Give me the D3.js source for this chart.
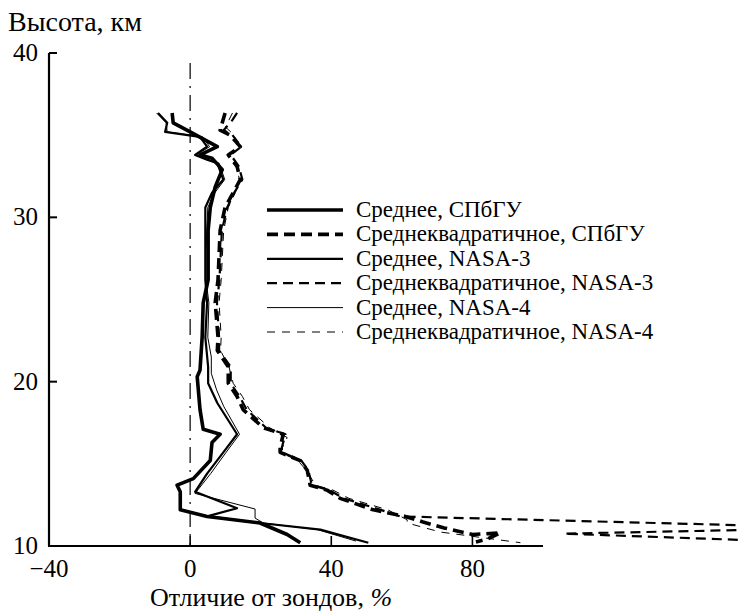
<!DOCTYPE html>
<html>
<head>
<meta charset="utf-8">
<script src="https://cdn.jsdelivr.net/npm/d3@7"></script>
<style>
  body { margin: 0; background: #fff; }
  text { font-family: "Liberation Serif", "DejaVu Serif", "Times New Roman", serif; fill: #000; }
</style>
</head>
<body>
<div id="chart"></div>
<script>
// [altitude km, difference %]
var meanSpbgu = [[36.35, -5.1], [35.75, -4.8], [35.2, 0], [34.3, 7.7], [33.8, 2.8], [33.6, 6.2],
  [32.9, 9.1], [31.85, 7.1], [30.6, 5.7], [29.2, 5.1], [26.2, 5.1], [24.8, 3.7], [22.7, 3.4],
  [20.7, 2.8], [20.3, 2.0], [18.3, 2.8], [17.1, 3.7], [16.8, 8.5], [16.3, 6.2], [15.2, 5.7],
  [14.1, 0.9], [13.7, -3.7], [13.3, -2.8], [12.2, -2.8], [11.8, 4.8], [11.4, 19.8],
  [10.7, 27.5], [10.2, 31.2]];
var rmsSpbgu = [[36.35, 9.9], [35.3, 8.5], [35.0, 11.3], [34.3, 14.2], [33.8, 10.8], [33.1, 13.3],
  [32.3, 14.2], [31.5, 12.2], [30.6, 9.9], [29.2, 8.5], [26.2, 7.9], [24.8, 7.1], [22.7, 7.9],
  [21.9, 7.7], [20.9, 10.8], [19.9, 10.8], [19.1, 13.3], [18.3, 15.0], [17.2, 20.7],
  [16.8, 26.4], [16.0, 25.5], [15.7, 25.5], [15.2, 31.2], [14.6, 33.2], [13.7, 34.0],
  [13.4, 38.8], [12.9, 42.5], [12.2, 51.9], [11.8, 61.0], [11.46, 66], [11.1, 72],
  [10.7, 80], [10.8, 88], [10.4, 84], [10.25, 81]];
var meanNasa3 = [[36.35, -9.1], [35.75, -6.5], [35.2, -7.1], [34.9, 2.8], [34.3, 4.8], [33.8, 1.4],
  [33.5, 4.8], [33.3, 7.7], [32.3, 9.4], [31.5, 6.2], [30.6, 4.3], [26.2, 4.3], [24.8, 4.8],
  [22.7, 4.3], [20.9, 5.1], [19.9, 5.1], [18.7, 7.7], [16.8, 13.3], [15.7, 9.4], [14.4, 4.8],
  [13.3, 1.4], [12.3, 13.3], [11.8, 4.8], [11.4, 19.8], [11.0, 36.9], [10.2, 50.5]];
var rmsNasa3 = [[36.35, 13.3], [35.9, 11.9], [35.3, 9.5], [35.0, 12.0], [34.3, 14.5], [33.8, 11.5],
  [33.1, 13.8], [32.3, 14.8], [31.5, 12.5], [30.6, 10.5], [29.2, 9.0], [26.2, 8.3], [24.8, 7.6],
  [22.7, 8.2], [21.9, 8.2], [20.9, 11.5], [19.9, 11.5], [19.1, 14.0], [18.3, 16.0],
  [17.2, 21.5], [16.8, 27.0], [16.0, 26.0], [15.7, 26.0], [15.2, 31.5], [14.6, 33.5],
  [13.7, 34.5], [13.4, 39.5], [12.9, 43.5], [12.2, 54.0], [11.8, 59.5], [11.3, 150],
  [11.1, 185], [10.75, 106], [10.15, 185]];
var meanNasa4 = [[36.35, -9.5], [35.75, -6.8], [35.2, -6.5], [34.9, 3.5], [34.3, 5.5], [33.8, 1.8],
  [33.5, 5.5], [33.3, 8.2], [32.3, 9.8], [31.5, 7.0], [30.6, 5.0], [28.0, 4.5], [26.2, 4.5],
  [24.8, 5.3], [22.7, 5.0], [21.5, 6.0], [20.5, 6.0], [19.5, 7.5], [18.5, 9.5], [16.8, 14.0],
  [15.7, 10.2], [14.4, 5.8], [13.2, 1.4], [12.25, 18.4], [11.7, 18.4], [11.4, 20.7],
  [11.0, 36], [10.3, 47]];
var rmsNasa4 = [[36.35, 12.0], [35.5, 10.0], [35.0, 12.5], [34.3, 13.5], [33.8, 11.0], [33.1, 13.0],
  [32.3, 14.0], [31.5, 12.8], [30.6, 10.8], [29.2, 9.5], [26.2, 8.8], [24.8, 8.2], [22.7, 8.8],
  [21.9, 8.6], [20.9, 11.0], [19.9, 12.2], [19.1, 14.8], [18.3, 16.8], [17.2, 22.5],
  [16.6, 27.5], [15.7, 25.5], [15.2, 30.5], [14.6, 33.0], [13.7, 35.5], [13.4, 40.5],
  [12.9, 45.0], [12.2, 56.0], [11.6, 61.5], [11.4, 61.5], [10.85, 70.9], [10.2, 93.6]];

var xTicks = [-40, 0, 40, 80];
var yTicks = [10, 20, 30, 40];
var legendLabels = ["Среднее, СПбГУ", "Среднеквадратичное, СПбГУ", "Среднее, NASA-3",
  "Среднеквадратичное, NASA-3", "Среднее, NASA-4", "Среднеквадратичное, NASA-4"];

var series = [
  { data: meanSpbgu, width: 3.6, dash: null },
  { data: rmsSpbgu, width: 3.6, dash: "11,6" },
  { data: meanNasa3, width: 2.2, dash: null },
  { data: rmsNasa3, width: 2.2, dash: "10,6" },
  { data: meanNasa4, width: 1, dash: null },
  { data: rmsNasa4, width: 1, dash: "8,7" }
];

var width = 741, height = 612;
var svg = d3.select("#chart").append("svg")
  .attr("width", width)
  .attr("height", height);

var x = d3.scaleLinear().domain([-40, 100]).range([49, 543]);
var y = d3.scaleLinear().domain([10, 40]).range([546, 53]);

// zero reference line
svg.append("line")
  .attr("x1", x(0)).attr("x2", x(0))
  .attr("y1", 63).attr("y2", y(10))
  .attr("stroke", "#000")
  .attr("stroke-width", 1.2)
  .attr("stroke-dasharray", "16,7,2,7");

// axes
svg.append("line")
  .attr("x1", x(-40)).attr("x2", x(-40))
  .attr("y1", y(40)).attr("y2", y(10))
  .attr("stroke", "#000").attr("stroke-width", 2.2);
svg.append("line")
  .attr("x1", x(-40) - 1).attr("x2", x(100))
  .attr("y1", y(10)).attr("y2", y(10))
  .attr("stroke", "#000").attr("stroke-width", 2.2);

svg.selectAll(".ytick")
  .data(yTicks.filter(function (d) { return d > 10; }))
  .enter().append("line")
  .attr("class", "ytick")
  .attr("x1", x(-40)).attr("x2", x(-40) + 8)
  .attr("y1", function (d) { return y(d); })
  .attr("y2", function (d) { return y(d); })
  .attr("stroke", "#000").attr("stroke-width", 2);

svg.selectAll(".xtick")
  .data(xTicks.filter(function (d) { return d > -40; }))
  .enter().append("line")
  .attr("class", "xtick")
  .attr("x1", function (d) { return x(d); })
  .attr("x2", function (d) { return x(d); })
  .attr("y1", y(10)).attr("y2", y(10) - 10)
  .attr("stroke", "#000").attr("stroke-width", 1.6);

svg.selectAll(".ylabel")
  .data(yTicks)
  .enter().append("text")
  .attr("x", 38)
  .attr("y", function (d) { return y(d) + 8; })
  .style("text-anchor", "end")
  .style("font-size", "25px")
  .text(function (d) { return d; });

svg.selectAll(".xlabel")
  .data(xTicks)
  .enter().append("text")
  .attr("x", function (d) { return x(d); })
  .attr("y", 577)
  .style("text-anchor", "middle")
  .style("font-size", "25px")
  .text(function (d) { return d < 0 ? "\u2212" + Math.abs(d) : d; });

svg.append("text")
  .attr("x", 8)
  .attr("y", 31)
  .style("font-size", "28px")
  .text("Высота, км");

var xTitle = svg.append("text")
  .attr("x", 271)
  .attr("y", 606)
  .style("text-anchor", "middle")
  .style("font-size", "26px");
xTitle.append("tspan").text("Отличие от зондов, ");
xTitle.append("tspan").style("font-style", "italic").text("%");

// profiles
var line = d3.line()
  .x(function (d) { return x(d[1]); })
  .y(function (d) { return y(d[0]); });

series.forEach(function (s) {
  svg.append("path")
    .datum(s.data)
    .attr("d", line)
    .attr("fill", "none")
    .attr("stroke", "#000")
    .attr("stroke-width", s.width)
    .attr("stroke-linejoin", "round")
    .attr("stroke-dasharray", s.dash);
});

// legend
var legend = svg.append("g")
  .attr("transform", "translate(267,210)");

var legendGroups = legend.selectAll("g")
  .data(legendLabels)
  .enter().append("g")
  .attr("transform", function (d, i) { return "translate(0," + i * 24.4 + ")"; });

legendGroups.append("line")
  .attr("x1", 0).attr("x2", 76)
  .attr("y1", 0).attr("y2", 0)
  .attr("stroke", "#000")
  .attr("stroke-width", function (d, i) { return series[i].width; })
  .attr("stroke-dasharray", function (d, i) { return series[i].dash; });

legendGroups.append("text")
  .attr("x", 89)
  .attr("y", 7)
  .style("font-size", "23px")
  .text(function (d) { return d; });
</script>
</body>
</html>
